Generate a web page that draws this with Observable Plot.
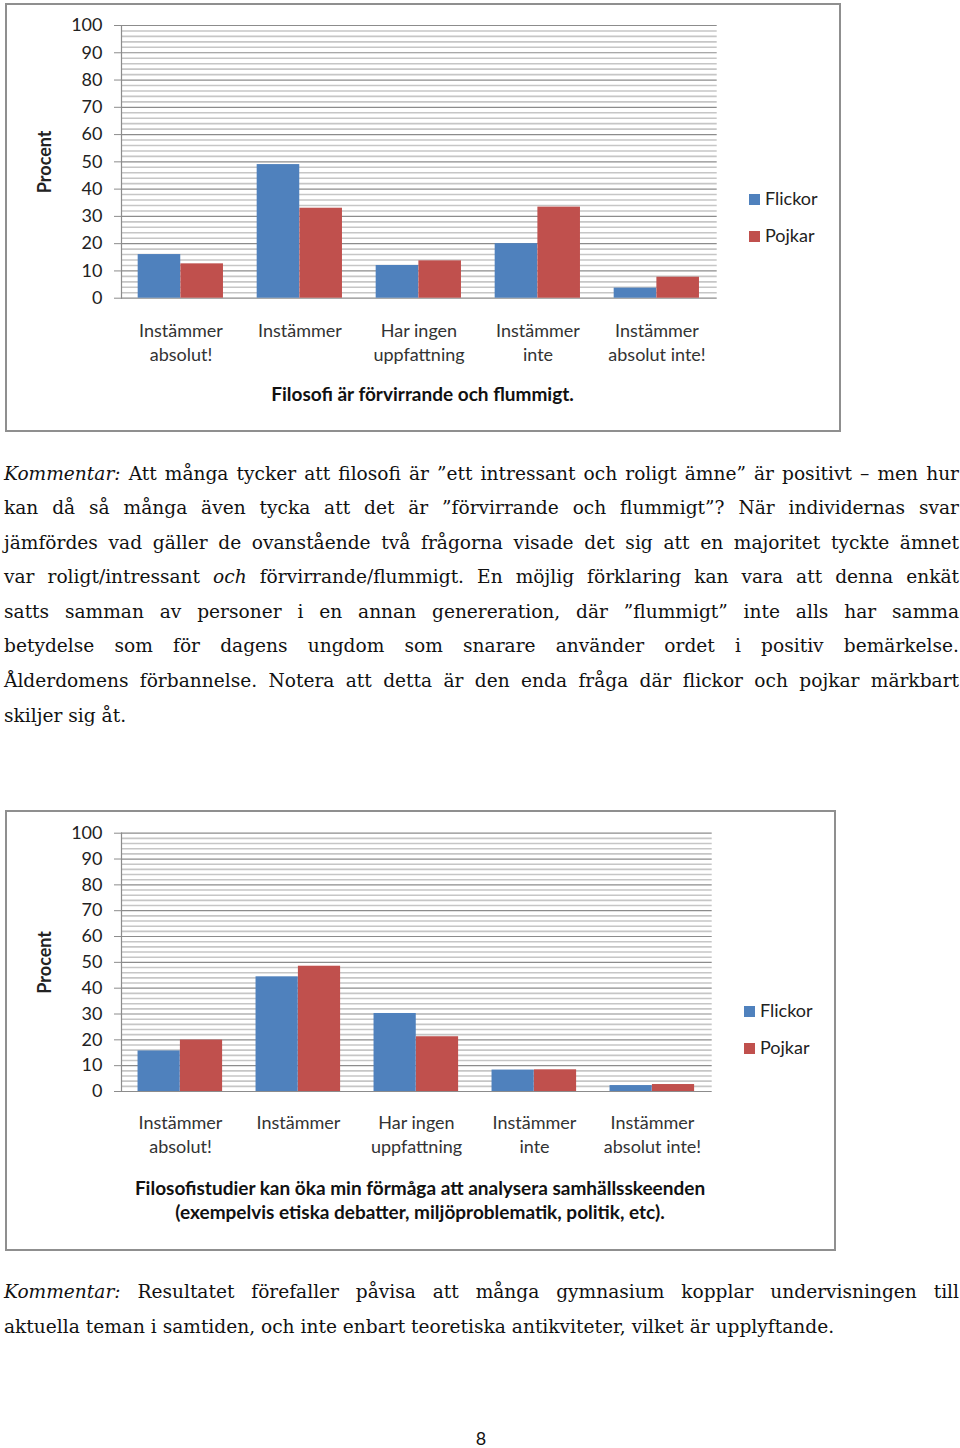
<!DOCTYPE html>
<html>
<head>
<meta charset="utf-8">
<script src="https://cdn.jsdelivr.net/npm/d3@7"></script>
<script src="https://cdn.jsdelivr.net/npm/@observablehq/plot@0.6"></script>
<style>
  html, body { margin: 0; padding: 0; background: #fff; }
  body { position: relative; width: 960px; height: 1448px; overflow: hidden; font-family: Lato, "Open Sans", sans-serif; color: #222; }
  .box { position: absolute; border: 2px solid #8f8f8f; box-sizing: border-box; }
  .chart { position: absolute; left: 0; }
  .chart svg { overflow: visible; }
  .ctitle { position: absolute; left: 5px; width: 835px; text-align: center; font-weight: bold; font-size: 19px; line-height: 24px; color: #111; }
  .legend { position: absolute; font-size: 18px; color: #222; }
  .legend .item { position: absolute; left: 0; white-space: nowrap; line-height: 20px; }
  .legend .sw { display: inline-block; width: 11px; height: 11px; margin-right: 5px; vertical-align: 0px; }
  .para { position: absolute; left: 4px; width: 955px; font-family: "DejaVu Serif", serif; font-size: 18.6px; line-height: 34.6px; color: #111; }
  .para .line { text-align: justify; text-align-last: justify; }
  .para .line.last { text-align-last: left; }
  .pagenum { position: absolute; left: 0; width: 962px; text-align: center; top: 1427px; font-size: 18px; line-height: 22px; color: #111; }
</style>
</head>
<body>
<div class="box" style="left:5px; top:3px; width:836px; height:429px;"></div>
<div class="box" style="left:5px; top:810px; width:831px; height:441px;"></div>
<div id="chart1" class="chart" style="top:0px;"></div>
<div id="chart2" class="chart" style="top:810px;"></div>
<div class="ctitle" id="title1" style="top:382px;"></div>
<div class="ctitle" id="title2" style="top:1176px; left:5px; width:830px;"></div>
<div class="legend" id="legend1" style="left:749px; top:188px;"></div>
<div class="legend" id="legend2" style="left:744px; top:1000px;"></div>

<div class="para" style="top:456.5px;">
  <div class="line"><i>Kommentar:</i> Att många tycker att filosofi är ”ett intressant och roligt ämne” är positivt – men hur</div>
  <div class="line">kan då så många även tycka att det är ”förvirrande och flummigt”? När individernas svar</div>
  <div class="line">jämfördes vad gäller de ovanstående två frågorna visade det sig att en majoritet tyckte ämnet</div>
  <div class="line">var roligt/intressant <i>och</i> förvirrande/flummigt. En möjlig förklaring kan vara att denna enkät</div>
  <div class="line">satts samman av personer i en annan genereration, där ”flummigt” inte alls har samma</div>
  <div class="line">betydelse som för dagens ungdom som snarare använder ordet i positiv bemärkelse.</div>
  <div class="line">Ålderdomens förbannelse. Notera att detta är den enda fråga där flickor och pojkar märkbart</div>
  <div class="line last">skiljer sig åt.</div>
</div>
<div class="para" style="top:1275px;">
  <div class="line"><i>Kommentar:</i> Resultatet förefaller påvisa att många gymnasium kopplar undervisningen till</div>
  <div class="line last">aktuella teman i samtiden, och inte enbart teoretiska antikviteter, vilket är upplyftande.</div>
</div>
<div class="pagenum">8</div>

<script>
// ---------- data ----------
const categories = ["Instämmer\nabsolut!", "Instämmer", "Har ingen\nuppfattning", "Instämmer\ninte", "Instämmer\nabsolut inte!"];
const seriesNames = ["Flickor", "Pojkar"];
const seriesColors = ["#4f81bd", "#c0504d"];

const chart1Title = ["Filosofi är förvirrande och flummigt."];
const chart1Flickor = [16, 49, 12, 20, 3.7];
const chart1Pojkar  = [12.6, 33, 13.7, 33.4, 7.7];

const chart2Title = ["Filosofistudier kan öka min förmåga att analysera samhällsskeenden", "(exempelvis etiska debatter, miljöproblematik, politik, etc)."];
const chart2Flickor = [15.7, 44.4, 30.2, 8.3, 2.3];
const chart2Pojkar  = [19.9, 48.5, 21.2, 8.4, 2.7];

const yMajorTicks = [0, 10, 20, 30, 40, 50, 60, 70, 80, 90, 100];
const yMinorTicks = [2,4,6,8,12,14,16,18,22,24,26,28,32,34,36,38,42,44,46,48,52,54,56,58,62,64,66,68,72,74,76,78,82,84,86,88,92,94,96,98];
const yLabel = "Procent";

// ---------- chart ----------
function makeChart(flickor, pojkar, opt) {
  const W = 840;
  const mL = opt.marginLeft, mR = opt.marginRight;
  const bw = (W - mL - mR) / categories.length;
  const f = categories.map((c, i) => ({cat: c, sex: seriesNames[0], v: flickor[i]}));
  const p = categories.map((c, i) => ({cat: c, sex: seriesNames[1], v: pojkar[i]}));
  const a = 0.140, m = 0.4985, b = 0.857;
  return Plot.plot({
    width: W,
    height: opt.height,
    marginLeft: mL,
    marginRight: mR,
    marginTop: opt.marginTop,
    marginBottom: opt.marginBottom,
    style: {fontFamily: "Lato, sans-serif", fontSize: "18px", color: "#222", background: "transparent"},
    x: {domain: categories, padding: 0, label: null},
    y: {domain: [0, 100], label: null},
    color: {domain: seriesNames, range: seriesColors},
    marks: [
      Plot.ruleY(yMinorTicks, {stroke: "#c6c6c6", strokeWidth: 1.6}),
      Plot.ruleY(yMajorTicks, {stroke: "#8c8c8c", strokeWidth: 1.2}),
      Plot.frame({anchor: "left", stroke: "#8c8c8c", strokeWidth: 1.2}),
      Plot.barY(f, {x: "cat", y: "v", fill: "sex", insetLeft: a * bw, insetRight: (1 - m) * bw}),
      Plot.barY(p, {x: "cat", y: "v", fill: "sex", insetLeft: m * bw, insetRight: (1 - b) * bw}),
      Plot.axisY({ticks: yMajorTicks, tickSize: 7, tickPadding: 12, stroke: "#8c8c8c", fill: "#222", label: null, fontSize: 18}),
      Plot.text([yLabel], {text: d => d, frameAnchor: "left", textAnchor: "middle", rotate: -90, dx: -76, fontWeight: "bold", fontSize: 18, fill: "#222"}),
      Plot.axisX({tickSize: 0, tickPadding: opt.xPad, lineHeight: 1.33, label: null, fill: "#333", fontSize: 18})
    ]
  });
}

document.getElementById("chart1").append(
  makeChart(chart1Flickor, chart1Pojkar, {marginLeft: 121, marginRight: 123.3, marginTop: 25, height: 375, marginBottom: 77.3, xPad: 21.5})
);
document.getElementById("chart2").append(
  makeChart(chart2Flickor, chart2Pojkar, {marginLeft: 121, marginRight: 128.3, marginTop: 22.7, height: 360, marginBottom: 79, xPad: 20.5})
);

// titles
function setTitle(id, lines) {
  const el = document.getElementById(id);
  lines.forEach(t => { const d = document.createElement("div"); d.textContent = t; el.append(d); });
}
setTitle("title1", chart1Title);
setTitle("title2", chart2Title);

// legends
function makeLegend(id, gap) {
  const el = document.getElementById(id);
  seriesNames.forEach((s, i) => {
    const it = document.createElement("div");
    it.className = "item";
    it.style.top = (i * gap) + "px";
    const sw = document.createElement("span");
    sw.className = "sw";
    sw.style.background = seriesColors[i];
    it.append(sw, document.createTextNode(s));
    el.append(it);
  });
}
makeLegend("legend1", 37);
makeLegend("legend2", 37);

// fit justified lines to one line each
document.querySelectorAll(".para .line").forEach(el => {
  let fs = 18.6;
  let guard = 0;
  while (el.getBoundingClientRect().height > 40 && guard < 40) {
    fs -= 0.1; el.style.fontSize = fs + "px"; guard++;
  }
});
</script>
</body>
</html>
